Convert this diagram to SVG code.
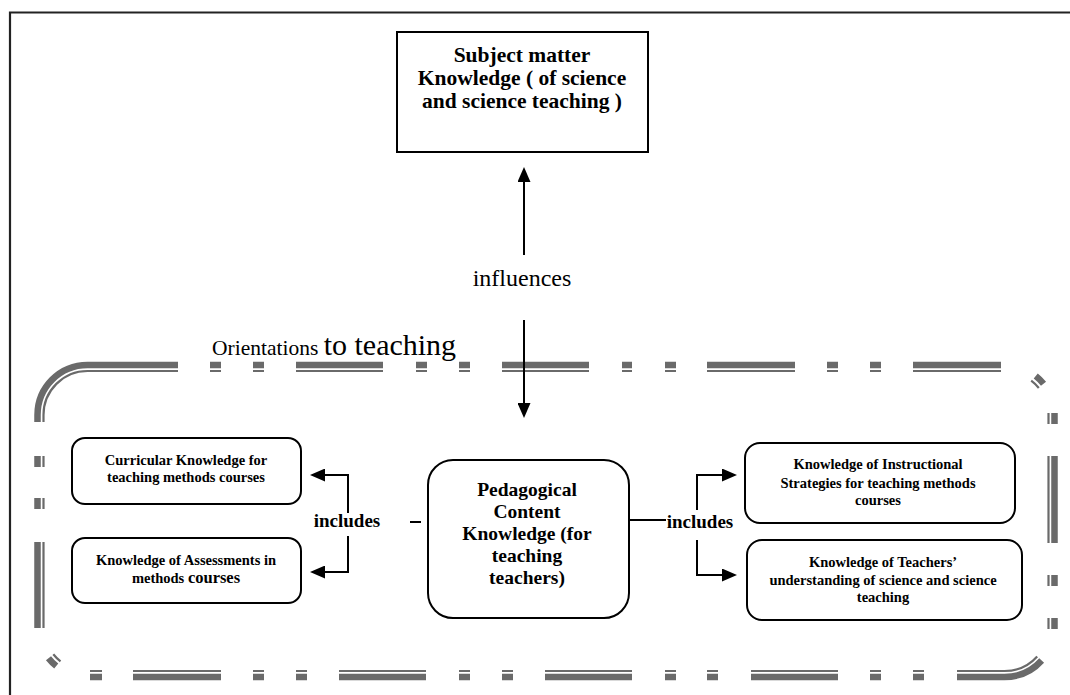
<svg xmlns="http://www.w3.org/2000/svg" width="1070" height="695" viewBox="0 0 1070 695">
<style>
.bg{fill:#fff}
.frame{fill:none;stroke:#222;stroke-width:2.2}
.tk{fill:none;stroke:#6a6a6a;stroke-width:6.5;stroke-linecap:butt}
.tn{fill:none;stroke:#6a6a6a;stroke-width:2.2;stroke-linecap:butt}
.box{fill:#fff;stroke:#000;stroke-width:2}
.conn{fill:none;stroke:#000;stroke-width:2}
.b{font-weight:bold;fill:#000;text-anchor:middle}
.r{fill:#000}
</style>
<defs>
<marker id="ah" markerWidth="15" markerHeight="13" refX="10" refY="6.5" orient="auto" markerUnits="userSpaceOnUse">
<path d="M0,0 L15,6.5 L0,13 z" fill="#000"/>
</marker>
</defs>
<rect class="bg" x="0" y="0" width="1070" height="695"/>
<path class="frame" d="M10,695 L10,12.5 L1070,12.5"/>

<g id="orientations-border">
<path class="tk" d="M37.5,422 L37.5,415 A50,50 0 0 1 87.5,365 L178,365"/>
<path class="tk" d="M210,365H221M253,365H264M296,365H383M416,365H427M459,365H470M502,365H589M622,365H632M665,365H676M707,365H795M827,365H838M870,365H881M913,365H1001"/>
<path class="tk" d="M1035.75,375.98 A50,50 0 0 1 1043.52,383.75"/>
<path class="tk" d="M1054.5,413V424M1054.5,456V543M1054.5,575V586M1054.5,618V629"/>
<path class="tk" d="M957,677 L1004.5,677 A50,50 0 0 0 1041.66,660.46"/>
<path class="tk" d="M90,677H102M133,677H221M253,677H264M296,677H307M339,677H426M459,677H470M502,677H513M545,677H632M665,677H676M707,677H718M751,677H838M870,677H881M913,677H924"/>
<path class="tk" d="M56.25,666.02 A50,50 0 0 1 48.48,658.25"/>
<path class="tk" d="M37.5,456V467M37.5,498V509M37.5,542V628"/>
<path class="tn" d="M43.5,422 L43.5,415 A44,44 0 0 1 87.5,371 L178,371"/>
<path class="tn" d="M210,371H221M253,371H264M296,371H383M416,371H427M459,371H470M502,371H589M622,371H632M665,371H676M707,371H795M827,371H838M870,371H881M913,371H1001"/>
<path class="tn" d="M1031.2,380.7 A44,44 0 0 1 1038.8,388"/>
<path class="tn" d="M1048.5,413V424M1048.5,456V543M1048.5,575V586M1048.5,618V629"/>
<path class="tn" d="M957,671 L1004.5,671 A44,44 0 0 0 1037.2,656.44"/>
<path class="tn" d="M90,671H102M133,671H221M253,671H264M296,671H307M339,671H426M459,671H470M502,671H513M545,671H632M665,671H676M707,671H718M751,671H838M870,671H881M913,671H924"/>
<path class="tn" d="M60.5,661.3 A44,44 0 0 1 53.3,654.2"/>
<path class="tn" d="M43.5,456V467M43.5,498V509M43.5,542V628"/>
</g>

<text id="orientations-label" class="r" font-family="'Liberation Serif', 'DejaVu Serif', serif" x="212" y="355"><tspan font-size="21.5">Orientations </tspan><tspan font-size="30">to teaching</tspan></text>

<g id="connectors" font-family="'Liberation Serif', 'DejaVu Serif', serif">
<line class="conn" x1="524" y1="255" x2="524" y2="172" marker-end="url(#ah)"/>
<line class="conn" x1="524" y1="320" x2="524" y2="413" marker-end="url(#ah)"/>
<text class="r" x="522" y="286" font-size="24" text-anchor="middle">influences</text>
<line class="conn" x1="410" y1="522" x2="421" y2="522"/>
<text class="b" x="347" y="527" font-size="19">includes</text>
<path class="conn" d="M348,513 V475 H315" marker-end="url(#ah)"/>
<path class="conn" d="M348,536 V572 H315" marker-end="url(#ah)"/>
<line class="conn" x1="629" y1="520" x2="666" y2="520"/>
<text class="b" x="700" y="528" font-size="19">includes</text>
<path class="conn" d="M697,510 V475 H732" marker-end="url(#ah)"/>
<path class="conn" d="M697,540 V575 H732" marker-end="url(#ah)"/>
</g>

<g id="subject-matter" font-family="'Liberation Serif', 'DejaVu Serif', serif">
<rect class="box" x="397" y="32" width="251" height="120"/>
<text class="b" font-size="21.5"><tspan x="522" y="62">Subject matter</tspan><tspan x="522" y="85">Knowledge ( of science</tspan><tspan x="522" y="108">and science teaching )</tspan></text>
</g>

<g id="pck" font-family="'Liberation Serif', 'DejaVu Serif', serif">
<rect class="box" x="428" y="460" width="201" height="158" rx="25" ry="25"/>
<text class="b" font-size="19.5"><tspan x="527" y="496">Pedagogical</tspan><tspan x="527" y="518">Content</tspan><tspan x="527" y="540">Knowledge (for</tspan><tspan x="527" y="562">teaching</tspan><tspan x="527" y="584">teachers)</tspan></text>
</g>

<g id="curricular" font-family="'Liberation Serif', 'DejaVu Serif', serif">
<rect class="box" x="72" y="438" width="229" height="66" rx="13" ry="13"/>
<text class="b" font-size="14.5"><tspan x="186" y="465">Curricular Knowledge for</tspan><tspan x="186" y="482">teaching methods courses</tspan></text>
</g>

<g id="assessments" font-family="'Liberation Serif', 'DejaVu Serif', serif">
<rect class="box" x="72" y="538" width="229" height="65" rx="13" ry="13"/>
<text class="b" font-size="14.5"><tspan x="186" y="565">Knowledge of Assessments in</tspan><tspan x="186" y="583">methods  <tspan font-size="16.5">courses</tspan></tspan></text>
</g>

<g id="instructional" font-family="'Liberation Serif', 'DejaVu Serif', serif">
<rect class="box" x="745" y="443" width="270" height="80" rx="15" ry="15"/>
<text class="b" font-size="14.5"><tspan x="878" y="469">Knowledge of Instructional</tspan><tspan x="878" y="488">Strategies for teaching methods</tspan><tspan x="878" y="505">courses</tspan></text>
</g>

<g id="teachers-understanding" font-family="'Liberation Serif', 'DejaVu Serif', serif">
<rect class="box" x="747" y="540" width="275" height="80" rx="15" ry="15"/>
<text class="b" font-size="14.5"><tspan x="883" y="567">Knowledge of Teachers’</tspan><tspan x="883" y="585">understanding of science and science</tspan><tspan x="883" y="602">teaching</tspan></text>
</g>
</svg>
